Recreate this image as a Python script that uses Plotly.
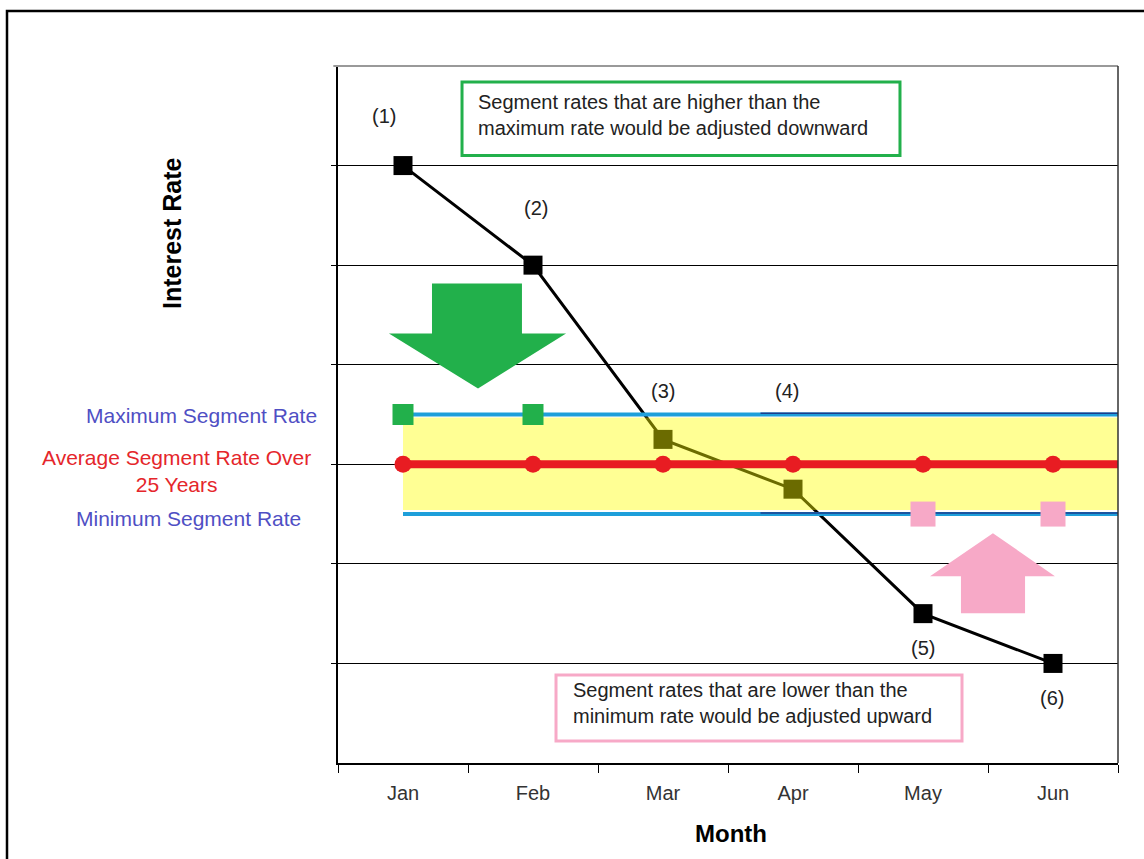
import plotly.graph_objects as go

months = ["Jan", "Feb", "Mar", "Apr", "May", "Jun"]
segment_rates = [6.0, 5.0, 3.25, 2.75, 1.5, 1.0]
point_labels = ["(1)", "(2)", "(3)", "(4)", "(5)", "(6)"]
max_rate = 3.5
avg_rate = 3.0
min_rate = 2.5
band_top = 3.47
band_bottom = 2.54
green_months = ["Jan", "Feb"]
pink_months = ["May", "Jun"]

xi = {m: i for i, m in enumerate(months)}
x_pos = [xi[m] for m in months]
x_end = len(months) - 0.5

FONT = "Liberation Sans, Arial, sans-serif"
GREEN = "#22B04B"
PINK = "#F7A9C7"
BLUE = "#1E9FDA"
NAVY = "#1B3C8C"
RED = "#E81C22"
TXT = "#222222"

fig = go.Figure()

# main segment-rate line
fig.add_trace(go.Scatter(
    x=x_pos, y=segment_rates, mode="lines+markers",
    line=dict(color="black", width=3),
    marker=dict(symbol="square", size=19, color="black"),
    showlegend=False, hoverinfo="skip"))

# translucent yellow corridor (drawn over the black line -> olive)
fig.add_trace(go.Scatter(
    x=[0, x_end, x_end, 0, 0], y=[band_top, band_top, band_bottom, band_bottom, band_top],
    mode="lines", fill="toself", fillcolor="rgba(255,255,0,0.42)",
    line=dict(width=0), showlegend=False, hoverinfo="skip"))

# max / min lines
for r in (max_rate, min_rate):
    fig.add_trace(go.Scatter(
        x=[0, x_end], y=[r, r], mode="lines",
        line=dict(color=BLUE, width=4), showlegend=False, hoverinfo="skip"))
    fig.add_trace(go.Scatter(
        x=[2.75, x_end], y=[r + 0.012, r + 0.012], mode="lines",
        line=dict(color=NAVY, width=1.5), showlegend=False, hoverinfo="skip"))

# green squares on max line
fig.add_trace(go.Scatter(
    x=[xi[m] for m in green_months], y=[max_rate] * len(green_months), mode="markers",
    marker=dict(symbol="square", size=21, color=GREEN), showlegend=False, hoverinfo="skip"))

# pink squares on min line
fig.add_trace(go.Scatter(
    x=[xi[m] for m in pink_months], y=[min_rate] * len(pink_months), mode="markers",
    marker=dict(symbol="square", size=25, color=PINK), showlegend=False, hoverinfo="skip"))

# average line
fig.add_trace(go.Scatter(
    x=[0, x_end], y=[avg_rate, avg_rate], mode="lines",
    line=dict(color=RED, width=8), showlegend=False, hoverinfo="skip"))
fig.add_trace(go.Scatter(
    x=x_pos, y=[avg_rate] * len(months), mode="markers",
    marker=dict(symbol="circle", size=17, color=RED), showlegend=False, hoverinfo="skip"))

# month labels on overlay axis
fig.add_trace(go.Scatter(x=x_pos, y=[None] * len(months), xaxis="x2",
                         showlegend=False, hoverinfo="skip"))

shapes = []
# green down arrow
shapes.append(dict(type="path", xref="x", yref="y",
                   path="M 0.223 4.816 L 0.915 4.816 L 0.915 4.314 L 1.254 4.314 "
                        "L 0.577 3.762 L -0.108 4.314 L 0.223 4.314 Z",
                   fillcolor=GREEN, line=dict(width=0), layer="above"))
# pink up arrow
shapes.append(dict(type="path", xref="x", yref="y",
                   path="M 4.292 1.505 L 4.785 1.505 L 4.785 1.876 L 5.015 1.876 "
                        "L 4.538 2.308 L 4.054 1.876 L 4.292 1.876 Z",
                   fillcolor=PINK, line=dict(width=0), layer="above"))
# text boxes
shapes.append(dict(type="rect", xref="x", yref="y", x0=0.454, x1=3.823, y0=6.10, y1=6.84,
                   line=dict(color=GREEN, width=3), fillcolor="white", layer="above"))
shapes.append(dict(type="rect", xref="x", yref="y", x0=1.177, x1=4.30, y0=0.221, y1=0.883,
                   line=dict(color=PINK, width=3), fillcolor="white", layer="above"))
# top frame line (gray) and right frame line
shapes.append(dict(type="line", xref="paper", yref="paper", x0=-0.006, x1=1, y0=1, y1=1,
                   line=dict(color="#999999", width=2)))
shapes.append(dict(type="line", xref="paper", yref="paper", x0=1, x1=1, y0=0, y1=1,
                   line=dict(color="#333333", width=1.5)))
# outer image border
shapes.append(dict(type="rect", xref="paper", yref="paper",
                   x0=(7 - 338) / 780, x1=1.1, y0=-0.3, y1=(763 - 11) / 697,
                   line=dict(color="black", width=2.5), fillcolor="rgba(0,0,0,0)"))

annotations = []
label_pos = [(-0.15, 6.5), (1.02, 5.57), (2.0, 3.74), (2.95, 3.74), (4.0, 1.16), (4.99, 0.65)]
for t, (ax_, ay_) in zip(point_labels, label_pos):
    annotations.append(dict(x=ax_, y=ay_, xref="x", yref="y", text=t, showarrow=False,
                            font=dict(family=FONT, size=20, color=TXT)))
annotations.append(dict(x=0.56, y=6.51, xref="x", yref="y", xanchor="left", align="left",
                        text="Segment rates that are higher than the<br>maximum rate would be adjusted downward",
                        showarrow=False, font=dict(family=FONT, size=20, color=TXT)))
annotations.append(dict(x=1.29, y=0.60, xref="x", yref="y", xanchor="left", align="left",
                        text="Segment rates that are lower than the<br>minimum rate would be adjusted upward",
                        showarrow=False, font=dict(family=FONT, size=20, color=TXT)))
# left-side labels
annotations.append(dict(x=(319 - 338) / 780, y=3.49, xref="paper", yref="y", xanchor="right",
                        yanchor="middle", text="Maximum Segment Rate", showarrow=False,
                        font=dict(family=FONT, size=21, color="#4F4FC4")))
annotations.append(dict(x=(176 - 338) / 780, y=2.93, xref="paper", yref="y", xanchor="center",
                        yanchor="middle", align="center", text="Average Segment Rate Over<br>25 Years",
                        showarrow=False, font=dict(family=FONT, size=21, color="#E5262B")))
annotations.append(dict(x=(303 - 338) / 780, y=2.46, xref="paper", yref="y", xanchor="right",
                        yanchor="middle", text="Minimum Segment Rate", showarrow=False,
                        font=dict(family=FONT, size=21, color="#4F4FC4")))
# axis titles
annotations.append(dict(x=(172 - 338) / 780, y=(763 - 233) / 697, xref="paper", yref="paper",
                        xanchor="center", yanchor="middle",
                        text="<b>Interest Rate</b>", textangle=-90, showarrow=False,
                        font=dict(family=FONT, size=25, color="black")))
annotations.append(dict(x=(731 - 338) / 780, y=(763 - 833) / 697, xref="paper", yref="paper",
                        xanchor="center", yanchor="middle",
                        text="<b>Month</b>", showarrow=False,
                        font=dict(family=FONT, size=24, color="black")))

fig.update_layout(
    width=1144, height=859,
    margin=dict(l=338, r=26, t=66, b=96),
    paper_bgcolor="white", plot_bgcolor="white",
    shapes=shapes, annotations=annotations,
    xaxis=dict(range=[-0.5, x_end], tickvals=[i - 0.5 for i in range(len(months) + 1)],
               ticktext=[""] * (len(months) + 1), ticks="outside", ticklen=8,
               tickcolor="black", showgrid=False, zeroline=False,
               showline=True, linecolor="black", linewidth=1.5),
    xaxis2=dict(range=[-0.5, x_end], overlaying="x", side="bottom", tickvals=x_pos,
                ticktext=months, ticks="", showgrid=False, zeroline=False, showline=False,
                tickfont=dict(family=FONT, size=20, color="#333333"), ticklabelstandoff=16),
    yaxis=dict(range=[0, 7], tickvals=[1, 2, 3, 4, 5, 6], showticklabels=False,
               ticks="outside", ticklen=5, tickcolor="black",
               showgrid=True, gridcolor="black", gridwidth=1, zeroline=False,
               showline=True, linecolor="black", linewidth=1.5),
)

fig.write_html("out.html", config={"displayModeBar": False},
               post_script="document.body.style.margin='0px';")
